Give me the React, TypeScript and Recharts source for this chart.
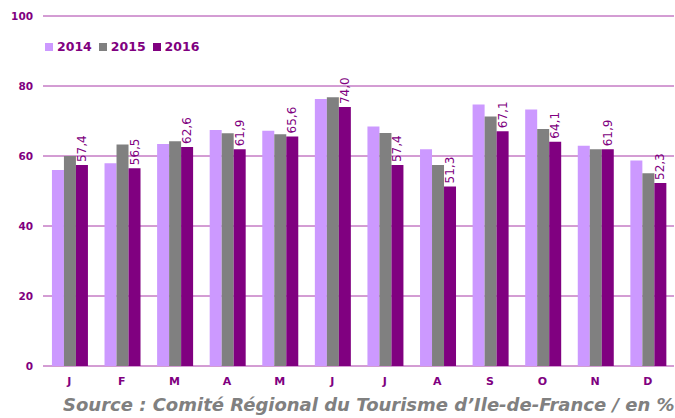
import React from "react";
import { Bar, BarChart, CartesianGrid, LabelList, XAxis, YAxis } from "recharts";

const months = ["J", "F", "M", "A", "M", "J", "J", "A", "S", "O", "N", "D"];
const values2014 = [56.0, 57.9, 63.4, 67.4, 67.2, 76.3, 68.4, 61.9, 74.7, 73.3, 62.9, 58.7];
const values2015 = [60.0, 63.3, 64.2, 66.5, 66.2, 76.8, 66.6, 57.4, 71.3, 67.7, 61.9, 55.1];
const values2016 = [57.4, 56.5, 62.6, 61.9, 65.6, 74.0, 57.4, 51.3, 67.1, 64.1, 61.9, 52.3];
const yTicks = [0, 20, 40, 60, 80, 100];
const boundaryTicks = [0, 1, 2, 3, 4, 5, 6, 7, 8, 9, 10, 11, 12];

const PURPLE = "#800080";
const FONT = "'DejaVu Sans', Verdana, sans-serif";

const legendItems = [
  { name: "2014", color: "#cc99ff" },
  { name: "2015", color: "#808080" },
  { name: "2016", color: "#800080" }
];

function RotatedLabel(props: any) {
  const { x, y, width, value } = props;
  const cx = Number(x) + Number(width) / 2;
  const cy = Number(y) - 3;
  return (
    <text
      x={cx}
      y={cy}
      transform={`rotate(-90 ${cx} ${cy})`}
      textAnchor="start"
      dominantBaseline="central"
      fill={PURPLE}
      fontSize={12}
      fontFamily={FONT}
    >
      {Number(value).toFixed(1).replace(".", ",")}
    </text>
  );
}

export default function App() {
  const data = months.map((m, i) => ({
    month: m,
    y2014: values2014[i],
    y2015: values2015[i],
    y2016: values2016[i]
  }));

  return (
    <div style={{ position: "absolute", left: 0, top: 0, width: 675, height: 418, background: "#fff" }}>
      <BarChart
        width={675}
        height={418}
        data={data}
        margin={{ top: 16, right: 1, bottom: 30, left: 0 }}
        barCategoryGap="17%"
        barGap={0}
      >
        <CartesianGrid horizontal vertical={false} stroke="#a83aa8" />
        <XAxis
          xAxisId="bounds"
          type="number"
          domain={[0, 12]}
          ticks={boundaryTicks}
          height={0}
          tick={() => <g />}
          tickSize={5}
          stroke={PURPLE}
          axisLine={{ stroke: PURPLE, strokeWidth: 2 }}
          tickLine={{ stroke: "#b060b0" }}
        />
        <XAxis
          dataKey="month"
          height={22}
          axisLine={false}
          tickLine={false}
          tickSize={0}
          tickMargin={11}
          interval={0}
          tick={{ fill: PURPLE, fontSize: 11, fontWeight: "bold", fontFamily: FONT }}
        />
        <YAxis
          width={43}
          domain={[0, 100]}
          ticks={yTicks}
          axisLine={false}
          tickLine={false}
          tickSize={0}
          tickMargin={10}
          tick={{ fill: PURPLE, fontSize: 10.5, fontWeight: "bold", fontFamily: FONT }}
        />
        <Bar dataKey="y2014" fill="#cc99ff" isAnimationActive={false} />
        <Bar dataKey="y2015" fill="#808080" isAnimationActive={false} />
        <Bar dataKey="y2016" fill="#800080" isAnimationActive={false}>
          <LabelList dataKey="y2016" content={RotatedLabel} />
        </Bar>
      </BarChart>

      <div
        style={{
          position: "absolute",
          left: 45,
          top: 39,
          display: "flex",
          fontFamily: FONT,
          fontWeight: "bold",
          fontSize: 12.5,
          color: PURPLE
        }}
      >
        {legendItems.map((item) => (
          <span key={item.name} style={{ display: "flex", alignItems: "center", marginRight: 7 }}>
            <span style={{ width: 8, height: 8, background: item.color, marginRight: 4 }} />
            {item.name}
          </span>
        ))}
      </div>

      <div
        style={{
          position: "absolute",
          left: 63,
          top: 394,
          whiteSpace: "nowrap",
          fontFamily: FONT,
          fontStyle: "italic",
          fontWeight: "bold",
          fontSize: 18,
          color: "#808080",
          overflow: "hidden",
          width: 612
        }}
      >
        Source : Comité Régional du Tourisme d’Ile-de-France / en %
      </div>
    </div>
  );
}
